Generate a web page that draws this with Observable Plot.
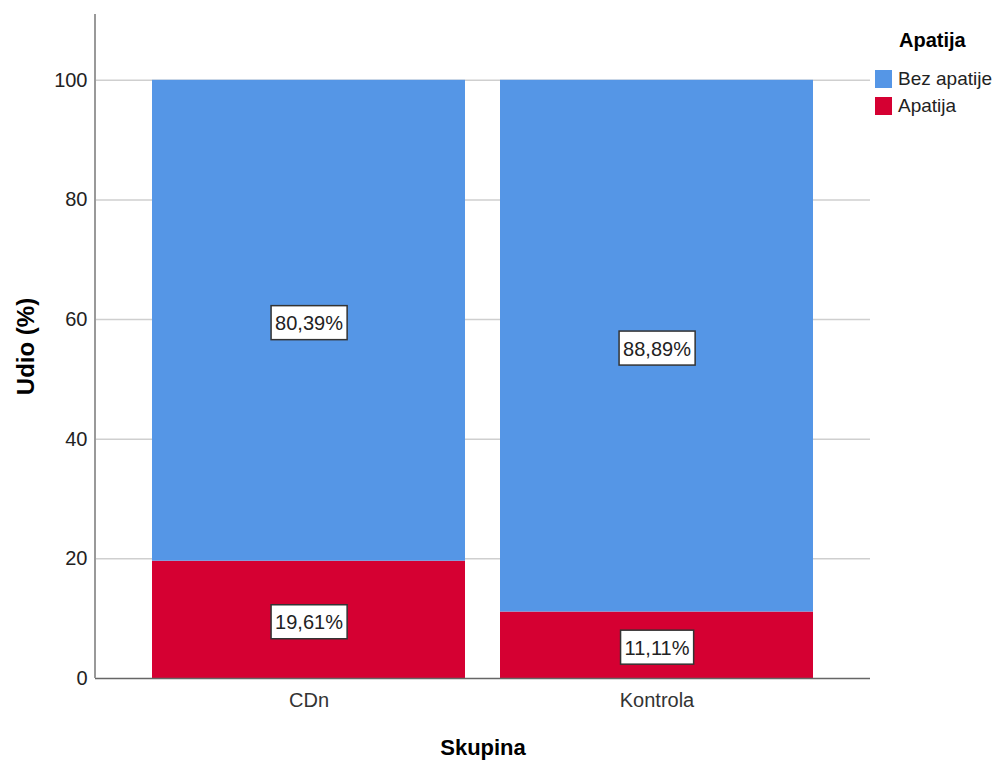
<!DOCTYPE html>
<html>
<head>
<meta charset="utf-8">
<script src="https://cdn.jsdelivr.net/npm/d3@7"></script>
<script src="https://cdn.jsdelivr.net/npm/@observablehq/plot@0.6"></script>
<style>
  html, body { margin: 0; padding: 0; background: #fff; }
  #wrap { position: relative; width: 998px; height: 763px; font-family: "Liberation Sans", Arial, sans-serif; }
  #legend { position: absolute; left: 875px; top: 28px; color: #000; }
  #legend .title { font-weight: bold; font-size: 20px; margin-left: 24px; line-height: 24px; margin-bottom: 13px; }
  #legend .item { display: flex; align-items: center; height: 27px; font-size: 19px; color: #222; }
  #legend .sw { width: 17px; height: 18px; margin-right: 6px; }
</style>
</head>
<body>
<div id="wrap"></div>
<script>
// ---- data ----
const groups = ["CDn", "Kontrola"];
const categories = ["Bez apatije", "Apatija"];
const bezApatije = [80.39, 88.89];
const apatija = [19.61, 11.11];
const colors = ["#5596e6", "#d50032"];
const yTicks = [0, 20, 40, 60, 80, 100];
const legendTitle = "Apatija";
const xLabel = "Skupina";
const yLabel = "Udio (%)";

const rows = [];
groups.forEach((g, i) => {
  rows.push({group: g, cat: "Apatija", value: apatija[i]});
  rows.push({group: g, cat: "Bez apatije", value: bezApatije[i]});
});
const fmt = v => v.toFixed(2).replace(".", ",") + "%";
const order = ["Apatija", "Bez apatije"];

const chart = Plot.plot({
  width: 998,
  height: 763,
  marginLeft: 95,
  marginRight: 128,
  marginTop: 14,
  marginBottom: 85,
  style: {fontFamily: "'Liberation Sans', Arial, sans-serif", background: "#fff"},
  x: {domain: groups, paddingInner: 0.1, paddingOuter: 0.163},
  y: {domain: [0, 111]},
  color: {domain: categories, range: colors},
  marks: [
    Plot.gridY(yTicks.filter(d => d > 0), {stroke: "#cfcfcf", strokeOpacity: 1, strokeWidth: 1.5}),
    Plot.barY(rows, Plot.stackY({x: "group", y: "value", fill: "cat", order, inset: 0})),
    Plot.ruleY([0], {stroke: "#666", strokeWidth: 1.5}),
    Plot.axisY({ticks: yTicks, tickSize: 0, tickPadding: 8, fontSize: 20, fill: "#222", label: null}),
    Plot.axisX({tickSize: 0, tickPadding: 14, fontSize: 20, fill: "#333", label: null}),
    Plot.text([yLabel], {frameAnchor: "left", dx: -69, rotate: -90, textAnchor: "middle", fontSize: 24, fontWeight: "bold", fill: "#000", lineAnchor: "middle"}),
    Plot.text([xLabel], {frameAnchor: "bottom", dy: 69, textAnchor: "middle", fontSize: 22, fontWeight: "bold", fill: "#000", lineAnchor: "middle"}),
    Plot.text(rows, Plot.stackY({x: "group", y: "value", z: "cat", order, text: d => fmt(d.value), fontSize: 20, fill: "#222", dy: 3}))
  ]
});

const wrap = document.getElementById("wrap");
wrap.appendChild(chart);

const svgNS = "http://www.w3.org/2000/svg";
// y axis line along the left edge of the frame
{
  const line = document.createElementNS(svgNS, "line");
  line.setAttribute("x1", 95); line.setAttribute("x2", 95);
  line.setAttribute("y1", 14); line.setAttribute("y2", 678);
  line.setAttribute("stroke", "#999"); line.setAttribute("stroke-width", 2);
  chart.appendChild(line);
}

// boxes behind value labels
const labelTexts = Array.from(chart.querySelectorAll("text")).filter(t => /%$/.test(t.textContent.trim()));
labelTexts.forEach(t => {
  const b = t.getBBox();
  const r = document.createElementNS(svgNS, "rect");
  r.setAttribute("x", b.x - 4);
  r.setAttribute("y", b.y - 6.5);
  r.setAttribute("width", b.width + 8);
  r.setAttribute("height", b.height + 12);
  r.setAttribute("fill", "#fff");
  r.setAttribute("stroke", "#333");
  r.setAttribute("stroke-width", 1.5);
  const tr = t.getAttribute("transform");
  if (tr) r.setAttribute("transform", tr);
  t.parentNode.insertBefore(r, t);
});

// legend
const leg = document.createElement("div");
leg.id = "legend";
const title = document.createElement("div");
title.className = "title";
title.textContent = legendTitle;
leg.appendChild(title);
categories.forEach((c, i) => {
  const item = document.createElement("div");
  item.className = "item";
  const sw = document.createElement("span");
  sw.className = "sw";
  sw.style.background = colors[i];
  const lab = document.createElement("span");
  lab.textContent = c;
  item.appendChild(sw); item.appendChild(lab);
  leg.appendChild(item);
});
wrap.appendChild(leg);
</script>
</body>
</html>
